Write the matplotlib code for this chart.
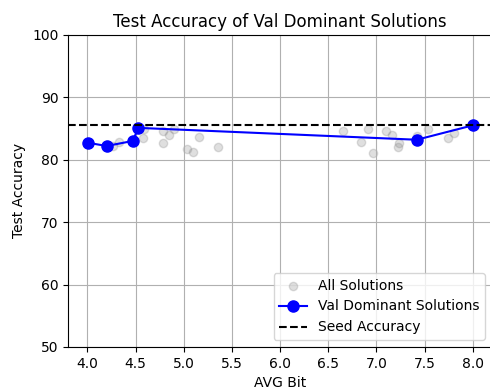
import numpy as np
import matplotlib
matplotlib.use("Agg")
import matplotlib.pyplot as plt

# All solutions (avg bit, test accuracy)
all_bits = [4.01, 4.20, 4.27, 4.33, 4.47, 4.53, 4.58, 4.59, 4.78, 4.79, 4.85, 4.90,
            5.03, 5.10, 5.16, 5.36, 6.65, 6.84, 6.91, 6.96, 7.10, 7.16, 7.22, 7.23,
            7.42, 7.42, 7.54, 7.74, 7.81, 8.00]
all_acc = [82.7, 82.2, 82.2, 82.9, 83.0, 85.1, 83.5, 84.9, 82.7, 84.6, 84.0, 84.9,
           81.7, 81.3, 83.7, 82.1, 84.6, 82.9, 84.9, 81.1, 84.6, 84.0, 82.1, 82.7,
           83.2, 83.8, 84.9, 83.5, 84.3, 85.5]

# Val dominant solutions
dom_bits = [4.01, 4.20, 4.47, 4.53, 7.42, 8.00]
dom_acc = [82.7, 82.2, 83.0, 85.1, 83.2, 85.5]

seed_acc = 85.5

fig = plt.figure(figsize=(4.9, 3.92), dpi=100)
ax = fig.add_axes([0.139, 0.115, 0.865, 0.796])

ax.scatter(all_bits, all_acc, color="gray", alpha=0.25, s=36, label="All Solutions")
ax.plot(dom_bits, dom_acc, "o-", color="blue", markersize=8, label="Val Dominant Solutions")
ax.axhline(seed_acc, color="black", linestyle="--", label="Seed Accuracy")

ax.set_xlim(3.8, 8.2)
ax.set_ylim(50, 100)
ax.set_xlabel("AVG Bit")
ax.set_ylabel("Test Accuracy")
ax.set_title("Test Accuracy of Val Dominant Solutions")
ax.grid(True)
ax.legend(loc="lower right")

fig.savefig("out.png", dpi=100)
